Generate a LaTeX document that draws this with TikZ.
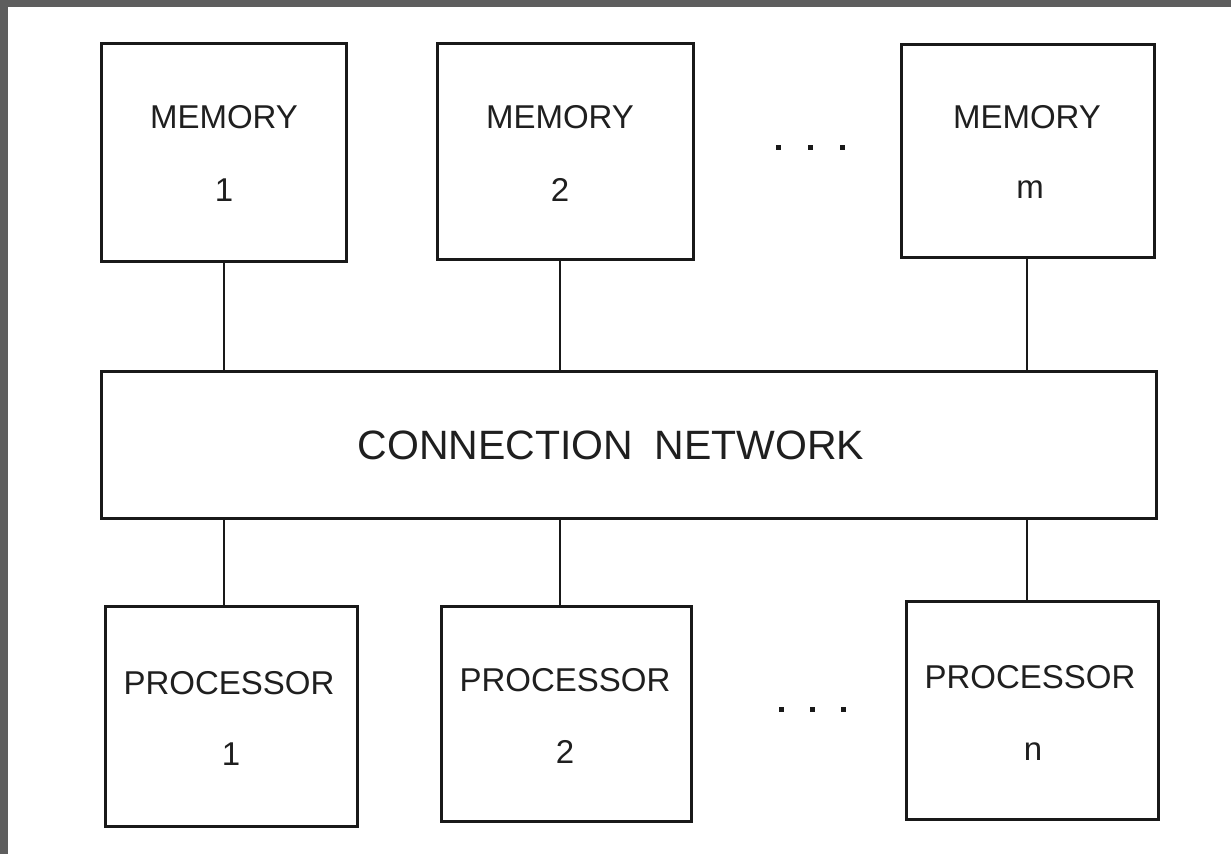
\documentclass[tikz,border=0pt]{standalone}
\usepackage{fontspec}
\setmainfont{Liberation Sans}
\begin{document}
\begin{tikzpicture}[x=1pt,y=-1pt,
  box/.style={draw=black!90,line width=2.6pt,fill=white,anchor=north west,inner sep=0pt},
  lbl/.style={inner sep=0pt,font=\fontsize{33}{36}\selectfont,text=black!88},
  wire/.style={draw=black!90,line width=2.5pt},
  dotmark/.style={fill=black!90,minimum size=5pt,inner sep=0pt}]
\useasboundingbox (0,0) rectangle (1231,854);
\fill[black!63] (0,0) rectangle (1231,7);
\fill[black!63] (0,0) rectangle (8,854);
% boxes
\node[box,minimum width=245pt,minimum height=218pt] (m1) at (100,42) {};
\node[box,minimum width=256pt,minimum height=216pt] (m2) at (436,42) {};
\node[box,minimum width=253pt,minimum height=213pt] (mm) at (900,43) {};
\node[box,minimum width=1055pt,minimum height=147pt] (cn) at (100,370) {};
\node[box,minimum width=252pt,minimum height=220pt] (p1) at (104,605) {};
\node[box,minimum width=250pt,minimum height=215pt] (p2) at (440,605) {};
\node[box,minimum width=252pt,minimum height=218pt] (pn) at (905,600) {};
% labels
\node[lbl] (m1a) at (224,117) {MEMORY};
\node[lbl] (m1b) at (224,190) {1};
\node[lbl] (m2a) at (560,117) {MEMORY};
\node[lbl] (m2b) at (560,190) {2};
\node[lbl] (mma) at (1027,117) {MEMORY};
\node[lbl] (mmb) at (1030,190) {m};
\node[lbl,font=\fontsize{41}{44}\selectfont] (cnt) at (611,445) {CONNECTION\hspace{10pt} NETWORK};
\node[lbl] (p1a) at (229,683) {PROCESSOR};
\node[lbl] (p1b) at (231,754) {1};
\node[lbl] (p2a) at (565,680) {PROCESSOR};
\node[lbl] (p2b) at (565,752) {2};
\node[lbl] (pna) at (1030,677) {PROCESSOR};
\node[lbl] (pnb) at (1033,752) {n};
% wires
\coordinate (x1) at (224,0);
\coordinate (x2) at (560,0);
\coordinate (x3) at (1027,0);
\draw[wire] (m1.south -| x1) -- (cn.north -| x1);
\draw[wire] (m2.south -| x2) -- (cn.north -| x2);
\draw[wire] (mm.south -| x3) -- (cn.north -| x3);
\draw[wire] (cn.south -| x1) -- (p1.north -| x1);
\draw[wire] (cn.south -| x2) -- (p2.north -| x2);
\draw[wire] (cn.south -| x3) -- (pn.north -| x3);
% dots
\node[dotmark] (d1) at (778,147) {};
\node[dotmark] (d2) at (810,147) {};
\node[dotmark] (d3) at (842,147) {};
\node[dotmark] (d4) at (781,709) {};
\node[dotmark] (d5) at (812,709) {};
\node[dotmark] (d6) at (843,709) {};
\end{tikzpicture}
\end{document}
